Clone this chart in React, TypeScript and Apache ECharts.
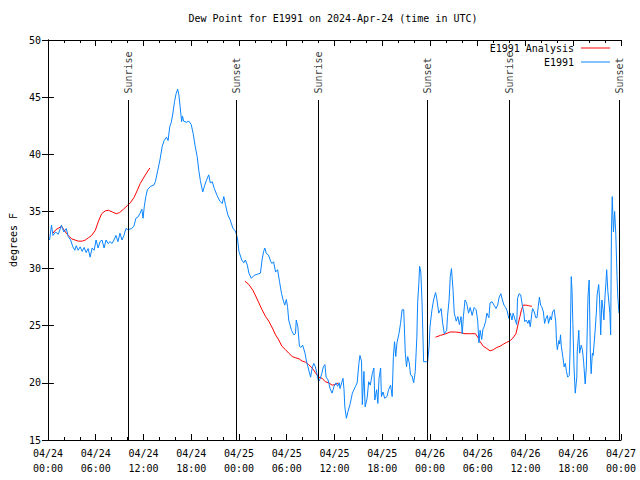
import React, { useEffect, useRef } from "react";
import * as echarts from "echarts";

// hours after 2024-04-24 00:00 UTC, dew point degrees F
const e1991: [number, number][] = [
  [0.2,32.5],[0.45,33.8],[0.63,32.9],[0.96,33.2],[1.3,33.0],[1.7,33.8],[2.0,33.2],[2.3,33.5],[2.55,32.8],[2.85,32.5],
  [3.13,31.9],[3.38,31.6],[3.55,32.0],[3.8,31.6],[4.05,31.9],[4.3,31.5],[4.55,31.85],[4.8,31.4],[5.05,31.75],[5.3,31.0],
  [5.55,31.8],[5.8,31.6],[6.05,32.5],[6.3,31.8],[6.55,32.35],[6.8,32.5],[7.05,31.8],[7.3,32.5],[7.55,32.2],[7.8,32.35],
  [8.05,32.2],[8.3,32.5],[8.55,32.9],[8.8,32.35],[9.05,33.1],[9.3,32.5],[9.55,32.9],[9.8,33.5],[10.05,33.4],[10.5,33.5],
  [10.8,33.7],[11.05,34.4],[11.3,34.5],[11.55,34.8],[11.8,35.2],[11.95,34.4],[12.1,35.4],[12.3,36.3],[12.5,36.9],[12.9,37.2],
  [13.3,37.3],[13.5,37.6],[13.8,38.6],[14.07,39.5],[14.36,40.7],[14.6,41.2],[14.9,41.5],[15.1,41.2],[15.3,42.4],[15.5,42.8],
  [15.7,43.6],[15.9,44.6],[16.1,45.3],[16.3,45.7],[16.45,45.2],[16.6,44.2],[16.8,42.85],[16.9,43.35],[17.05,42.9],[17.4,42.8],
  [17.7,42.9],[18.0,42.6],[18.25,41.8],[18.5,40.7],[18.75,39.8],[18.95,38.6],[19.15,37.7],[19.45,36.7],[19.7,37.3],[19.9,37.7],
  [20.2,38.2],[20.4,37.5],[20.65,37.6],[20.9,37.0],[21.25,36.4],[21.6,35.9],[21.9,35.7],[22.1,36.3],[22.3,35.6],[22.6,34.7],
  [22.9,34.25],[23.25,33.5],[23.55,33.3],[23.8,32.7],[24.0,31.5],[24.35,30.75],[24.6,30.5],[24.8,30.75],[25.05,30.3],[25.25,29.6],
  [25.55,29.15],[25.9,29.4],[26.3,29.5],[26.7,29.6],[26.9,30.75],[27.1,31.5],[27.25,31.8],[27.45,31.3],[27.7,31.2],[28.0,30.6],
  [28.15,30.45],[28.35,30.6],[28.6,29.7],[28.85,29.9],[29.1,28.85],[29.35,27.8],[29.55,27.25],[29.75,26.8],[29.95,27.3],[30.1,26.7],
  [30.25,25.5],[30.6,24.6],[30.9,24.2],[31.1,24.3],[31.2,25.5],[31.4,24.9],[31.6,23.2],[31.8,23.1],[32.0,23.3],[32.3,22.6],
  [32.45,22.0],[32.7,21.3],[33.0,20.5],[33.2,21.3],[33.4,21.7],[33.6,21.4],[33.8,20.8],[34.0,20.1],[34.2,20.35],[34.4,20.8],
  [34.6,21.4],[34.8,21.6],[34.95,20.5],[35.2,20.25],[35.45,19.5],[35.7,19.1],[35.95,19.7],[36.2,20.0],[36.4,19.7],[36.6,20.0],
  [36.7,19.5],[36.9,20.0],[37.07,20.4],[37.2,19.4],[37.3,17.9],[37.5,16.9],[37.7,17.5],[37.95,18.1],[38.25,19.1],[38.65,19.7],
  [38.85,20.0],[39.07,21.7],[39.2,22.4],[39.4,21.9],[39.5,18.1],[39.7,21.0],[39.85,17.9],[40.1,18.65],[40.3,20.1],[40.5,19.8],
  [40.75,20.8],[40.95,21.3],[41.07,18.5],[41.3,19.4],[41.45,18.2],[41.6,20.4],[41.8,21.3],[41.9,18.8],[42.1,19.2],[42.3,18.65],
  [42.6,18.8],[42.8,19.4],[43.05,19.8],[43.25,18.8],[43.4,22.3],[43.55,23.6],[43.7,22.3],[43.85,23.5],[44.1,24.3],[44.3,25.2],
  [44.5,26.4],[44.7,26.4],[44.9,22.6],[45.05,21.4],[45.2,22.3],[45.4,21.75],[45.55,20.7],[45.75,20.6],[45.95,20.0],[46.15,21.0],
  [46.35,24.0],[46.45,27.0],[46.6,28.7],[46.7,30.2],[46.85,29.7],[47.0,27.1],[47.2,21.85],[47.55,21.85],[47.7,21.75],[47.9,23.3],
  [48.0,24.9],[48.25,26.4],[48.45,27.25],[48.7,27.9],[48.85,27.4],[49.1,26.1],[49.4,26.5],[49.6,25.2],[49.8,24.3],[50.1,24.6],
  [50.2,25.8],[50.4,27.25],[50.55,29.3],[50.7,30.0],[50.9,28.1],[51.05,26.1],[51.3,25.4],[51.5,25.8],[51.7,25.1],[51.9,25.8],
  [52.05,24.3],[52.2,25.8],[52.4,27.25],[52.6,27.0],[52.85,26.1],[53.05,26.6],[53.3,25.9],[53.55,26.6],[53.8,26.4],[54.0,25.4],
  [54.15,23.5],[54.3,24.6],[54.5,23.8],[54.65,24.7],[54.8,24.9],[55.0,25.4],[55.15,26.1],[55.4,25.7],[55.55,27.0],[55.8,27.1],
  [56.05,26.8],[56.3,26.5],[56.5,26.8],[56.7,27.5],[56.9,27.8],[57.1,27.25],[57.3,26.8],[57.5,26.6],[57.7,26.3],[57.9,25.65],
  [58.1,26.1],[58.3,25.5],[58.45,26.1],[58.7,25.5],[58.9,25.1],[59.0,27.4],[59.2,27.8],[59.4,27.7],[59.6,26.8],[59.8,26.1],
  [59.9,25.35],[60.1,25.5],[60.3,25.2],[60.45,25.5],[60.6,24.9],[60.8,26.1],[60.9,26.5],[61.1,26.2],[61.3,25.7],[61.45,25.7],
  [61.6,26.65],[61.75,27.5],[61.9,26.8],[62.05,26.65],[62.25,26.2],[62.4,25.2],[62.55,25.6],[62.75,25.9],[62.9,25.2],[63.1,25.8],
  [63.25,25.5],[63.4,26.2],[63.6,26.4],[63.8,25.35],[63.9,23.6],[64.0,22.9],[64.2,23.7],[64.3,23.4],[64.4,24.2],[64.5,23.2],
  [64.75,22.0],[64.85,21.4],[65.0,21.7],[65.15,21.0],[65.3,20.5],[65.5,20.65],[65.6,22.7],[65.75,29.3],[65.85,28.0],[65.95,25.2],
  [66.1,21.3],[66.25,19.1],[66.45,20.5],[66.5,22.7],[66.7,24.6],[66.8,22.6],[67.0,23.3],[67.15,22.9],[67.3,21.9],[67.5,19.9],
  [67.65,21.4],[67.85,27.5],[68.0,29.0],[68.15,22.6],[68.25,20.8],[68.4,22.6],[68.5,22.4],[68.7,24.1],[68.9,26.1],[69.0,27.7],
  [69.2,28.6],[69.3,27.4],[69.45,24.2],[69.6,27.25],[69.75,26.4],[69.85,25.5],[70.0,27.7],[70.1,28.7],[70.2,29.9],[70.35,28.0],
  [70.45,27.25],[70.6,26.1],[70.7,24.2],[70.8,33.2],[70.9,36.3],[71.05,33.2],[71.2,35.0],[71.35,33.0],[71.5,29.3],[71.6,27.5],
  [71.75,26.1],
];

const analysisDay1: [number, number][] = [
  [0.63,33.1],[1.0,33.4],[1.7,33.7],[2.2,33.2],[2.6,32.85],[3.0,32.6],[3.4,32.5],[3.8,32.4],[4.3,32.4],[4.7,32.5],
  [5.1,32.7],[5.5,32.9],[5.95,33.35],[6.35,34.15],[6.75,34.8],[7.2,35.05],[7.6,35.1],[8.1,34.95],[8.6,34.8],[9.0,34.9],
  [9.5,35.2],[9.95,35.5],[10.35,35.75],[10.8,36.2],[11.2,36.8],[11.6,37.45],[12.15,38.1],[12.8,38.8],
];
const analysisDay2: [number, number][] = [
  [24.75,28.9],[25.25,28.6],[25.75,28.1],[26.1,27.6],[26.5,27.0],[26.9,26.4],[27.35,25.8],[27.75,25.4],[28.2,24.8],[28.6,24.2],
  [29.0,23.75],[29.4,23.2],[29.85,22.9],[30.25,22.6],[30.7,22.3],[31.1,22.2],[31.55,22.1],[31.95,21.9],[32.4,21.8],[32.75,21.6],
  [33.2,21.3],[33.6,20.9],[34.0,20.5],[34.45,20.4],[34.85,20.1],[35.3,20.0],[35.7,19.8],[36.1,19.85],[36.5,20.0],
];
const analysisDay3: [number, number][] = [
  [48.7,24.0],[49.3,24.15],[50.0,24.3],[50.55,24.45],[51.2,24.45],[51.8,24.4],[52.4,24.3],[53.1,24.3],[53.7,24.3],[54.0,24.0],
  [54.3,23.6],[54.7,23.2],[55.15,23.0],[55.55,22.8],[55.95,22.9],[56.4,23.1],[56.8,23.2],[57.25,23.4],[57.65,23.55],[58.1,23.7],
  [58.5,24.0],[58.8,24.3],[59.1,25.2],[59.3,25.8],[59.5,26.4],[59.7,26.8],[60.1,26.8],[60.4,26.75],[60.8,26.7],
];

const sunHours = [10.07, 23.67, 33.94, 47.71, 58.02, 71.75];
const sunLabels = ["Sunrise", "Sunset", "Sunrise", "Sunset", "Sunrise", "Sunset"];
const sunLineTop = 44.75;

const yMin = 15;
const yMax = 50;
const xMin = 0;
const xMax = 72;

const FONT = "'DejaVu Sans Mono', 'Liberation Mono', monospace";
const BLUE = "#0a84ff";
const RED = "#ff0000";

const pad = (n: number) => (n < 10 ? "0" + n : "" + n);
const fmtX = (v: number) => {
  const day = 24 + Math.floor(v / 24);
  const hh = Math.round(v % 24);
  return `04/${day}\n${pad(hh)}:00`;
};

export default function App() {
  const ref = useRef<HTMLDivElement>(null);
  useEffect(() => {
    document.body.style.margin = "0";
    const chart = echarts.init(ref.current!, null, { renderer: "svg" });
    const axisCommon = {
      type: "value" as const,
      axisLine: { show: true, lineStyle: { color: "#000", width: 1 } },
      splitLine: { show: false },
    };
    const redSeries = (data: [number, number][]) => ({
      name: "E1991 Analysis",
      type: "line",
      data,
      symbol: "none",
      lineStyle: { color: RED, width: 1 },
      itemStyle: { color: RED },
      z: 3,
    });
    const legendCommon = {
      right: 30,
      padding: 0,
      align: "right",
      icon: "rect",
      itemWidth: 29,
      itemHeight: 1,
      textStyle: { fontFamily: FONT, fontSize: 10, color: "#000", padding: [0, 2, 0, 0] },
    };
    chart.setOption({
      animation: false,
      backgroundColor: "#fff",
      textStyle: { fontFamily: FONT },
      title: {
        text: "Dew Point for E1991 on 2024-Apr-24 (time in UTC)",
        left: 333,
        textAlign: "center",
        top: 13,
        padding: 0,
        textStyle: { fontFamily: FONT, fontSize: 10, fontWeight: "normal", color: "#000" },
      },
      legend: [
        { ...legendCommon, data: ["E1991 Analysis"], top: 43 },
        { ...legendCommon, data: ["E1991"], top: 57 },
      ],
      grid: { left: 46, right: 19, top: 40, bottom: 40 },
      xAxis: [
        {
          ...axisCommon,
          position: "bottom",
          min: xMin,
          max: xMax,
          interval: 6,
          axisTick: { show: true, inside: true, length: 6, lineStyle: { color: "#000" } },
          minorTick: { show: true, splitNumber: 3, length: 3, lineStyle: { color: "#000" } },
          axisLabel: {
            formatter: fmtX,
            fontFamily: FONT,
            fontSize: 10,
            color: "#000",
            margin: 6,
            lineHeight: 15,
            showMinLabel: true,
            showMaxLabel: true,
          },
        },
        {
          ...axisCommon,
          position: "top",
          min: xMin,
          max: xMax,
          interval: 6,
          axisTick: { show: true, inside: true, length: 6, lineStyle: { color: "#000" } },
          minorTick: { show: true, splitNumber: 3, length: 3, lineStyle: { color: "#000" } },
          axisLabel: { show: false },
        },
      ],
      yAxis: [
        {
          ...axisCommon,
          position: "left",
          min: yMin,
          max: yMax,
          interval: 5,
          name: "degrees F",
          nameLocation: "middle",
          nameRotate: 90,
          nameGap: 28,
          nameTextStyle: { fontFamily: FONT, fontSize: 10, color: "#000" },
          axisTick: { show: true, inside: true, length: 6, lineStyle: { color: "#000" } },
          axisLabel: { fontFamily: FONT, fontSize: 10, color: "#000", margin: 7 },
        },
        {
          ...axisCommon,
          position: "right",
          min: yMin,
          max: yMax,
          interval: 5,
          axisTick: { show: true, inside: true, length: 6, lineStyle: { color: "#000" } },
          axisLabel: { show: false },
        },
      ],
      series: [
        {
          name: "sun",
          type: "scatter",
          data: sunHours.map((h, i) => ({ value: [h, sunLineTop], name: sunLabels[i] })),
          symbolSize: 1,
          itemStyle: { color: "transparent" },
          silent: true,
          z: 1,
          label: {
            show: true,
            formatter: (p: any) => p.name,
            position: "top",
            distance: 6,
            rotate: 90,
            align: "left",
            verticalAlign: "middle",
            fontFamily: FONT,
            fontSize: 10,
            color: "#000",
          },
          markLine: {
            silent: true,
            symbol: ["none", "none"],
            lineStyle: { color: "#000", width: 1, type: "solid" },
            label: { show: false },
            emphasis: { disabled: true },
            data: sunHours.map((h) => [{ coord: [h, yMin] }, { coord: [h, sunLineTop] }]),
          },
        },
        redSeries(analysisDay1),
        redSeries(analysisDay2),
        redSeries(analysisDay3),
        {
          name: "E1991",
          type: "line",
          data: e1991,
          symbol: "none",
          lineStyle: { color: BLUE, width: 1 },
          itemStyle: { color: BLUE },
          z: 4,
        },
      ],
    });
    return () => chart.dispose();
  }, []);
  return (
    <div
      ref={ref}
      style={{ position: "fixed", left: 0, top: 0, width: 640, height: 480, background: "#fff" }}
    />
  );
}
